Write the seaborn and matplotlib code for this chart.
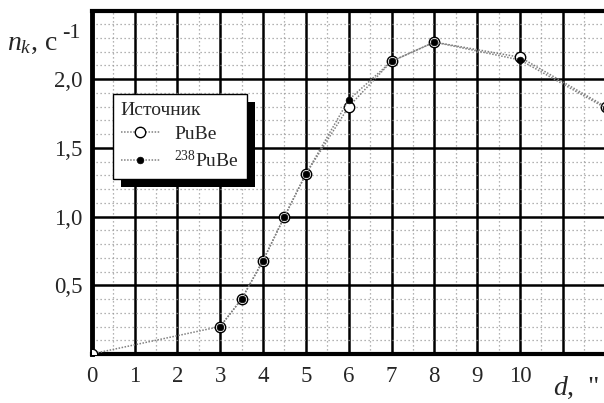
import matplotlib
matplotlib.use("Agg")
import matplotlib.pyplot as plt
from matplotlib.patches import Rectangle
from matplotlib.ticker import MultipleLocator, FixedLocator, FixedFormatter
import seaborn as sns

# Данные
d_pube = [0, 3, 3.5, 4, 4.5, 5, 6, 7, 8, 10, 12]
n_pube = [0, 0.20, 0.40, 0.68, 1.00, 1.31, 1.80, 2.13, 2.27, 2.16, 1.80]

d_238 = [3, 3.5, 4, 4.5, 5, 6, 7, 8, 10, 12]
n_238 = [0.20, 0.40, 0.68, 1.00, 1.31, 1.85, 2.13, 2.27, 2.14, 1.79]

x_ticks = [0, 1, 2, 3, 4, 5, 6, 7, 8, 9, 10, 11]
x_tick_labels = ["0", "1", "2", "3", "4", "5", "6", "7", "8", "9", "10", ""]
y_ticks = [0.0, 0.5, 1.0, 1.5, 2.0, 2.5]
y_tick_labels = ["", "0,5", "1,0", "1,5", "2,0", ""]

legend_title = "Источник"
label_pube = "PuBe"
label_238 = "$^{238}$PuBe"


def setup_style():
    sns.set_style("white")
    plt.rcParams["font.family"] = ["Liberation Serif", "DejaVu Serif"]
    plt.rcParams["mathtext.fontset"] = "custom"
    plt.rcParams["mathtext.rm"] = "Liberation Serif"
    plt.rcParams["mathtext.it"] = "Liberation Serif:italic"


def plot_counts():
    fig = plt.figure(figsize=(6.04, 4.03), dpi=100)
    ax = fig.add_axes([91.7 / 604, 49 / 403, 514 / 604, 343.5 / 403])

    ax.set_xlim(0, 12)
    ax.set_ylim(0, 2.5)

    # сетка
    ax.xaxis.set_major_locator(FixedLocator(x_ticks))
    ax.xaxis.set_major_formatter(FixedFormatter(x_tick_labels))
    ax.xaxis.set_minor_locator(MultipleLocator(0.5))
    ax.yaxis.set_major_locator(FixedLocator(y_ticks))
    ax.yaxis.set_major_formatter(FixedFormatter(y_tick_labels))
    ax.yaxis.set_minor_locator(MultipleLocator(0.1))
    ax.grid(True, which="major", color="black", linewidth=1.8, zorder=0)
    ax.grid(True, which="minor", color="#9a9a9a", linewidth=0.9,
            linestyle=(0, (1, 2.2)), zorder=0)
    ax.set_axisbelow(True)

    ax.tick_params(which="both", direction="out", color="black",
                   length=2.5, width=3, labelsize=16.5, pad=4)
    ax.tick_params(axis="x", which="major", pad=6)

    for side in ["left", "bottom", "top", "right"]:
        ax.spines[side].set_color("black")
    ax.spines["left"].set_linewidth(3.5)
    ax.spines["bottom"].set_linewidth(3)
    ax.spines["top"].set_linewidth(3)
    ax.spines["right"].set_visible(False)

    sns.lineplot(x=d_pube, y=n_pube, ax=ax, sort=False, estimator=None,
                 color="#808080", linewidth=1.1, linestyle=(0, (1, 1)),
                 marker="o", markersize=7.5, markerfacecolor="white",
                 markeredgecolor="black", markeredgewidth=1.0,
                 label=label_pube, zorder=3)
    sns.lineplot(x=d_238, y=n_238, ax=ax, sort=False, estimator=None,
                 color="#808080", linewidth=1.1, linestyle=(0, (1, 1)),
                 marker="o", markersize=4.8, markerfacecolor="black",
                 markeredgecolor="black", markeredgewidth=0.5,
                 label=label_238, zorder=4)

    ax.set_xlabel("")
    ax.set_ylabel("")

    # подписи осей
    fig.text(7 / 604, 1 - 50 / 403, "$n_k$, с", fontsize=20,
             ha="left", va="baseline")
    fig.text(62 / 604, 1 - 38.5 / 403, "-1", fontsize=16,
             ha="left", va="baseline")
    fig.text(553 / 604, 1 - 395 / 403, "$d$,  \"", fontsize=20,
             ha="left", va="baseline")

    leg = ax.legend(title=legend_title, loc="upper left",
                    bbox_to_anchor=(113 / 604, 1 - 94 / 403),
                    bbox_transform=fig.transFigure, borderaxespad=0,
                    fontsize=14, title_fontsize=14, frameon=True,
                    fancybox=False, edgecolor="black", framealpha=1,
                    handlelength=2.0, handletextpad=0.75, labelspacing=0.35,
                    borderpad=0.4, alignment="left")
    leg.get_frame().set_linewidth(1.0)
    leg.set_zorder(6)

    # тень легенды
    fig.canvas.draw()
    bb = leg.get_frame().get_window_extent()
    inv = ax.transAxes.inverted()
    (x0, y0) = inv.transform((bb.x0 + 8, bb.y0 - 8))
    (x1, y1) = inv.transform((bb.x1 + 8, bb.y1 - 8))
    ax.add_patch(Rectangle((x0, y0), x1 - x0, y1 - y0, transform=ax.transAxes,
                           facecolor="black", edgecolor="none", zorder=5.5,
                           clip_on=False))

    fig.savefig("out.png", dpi=100)


if __name__ == "__main__":
    setup_style()
    plot_counts()
